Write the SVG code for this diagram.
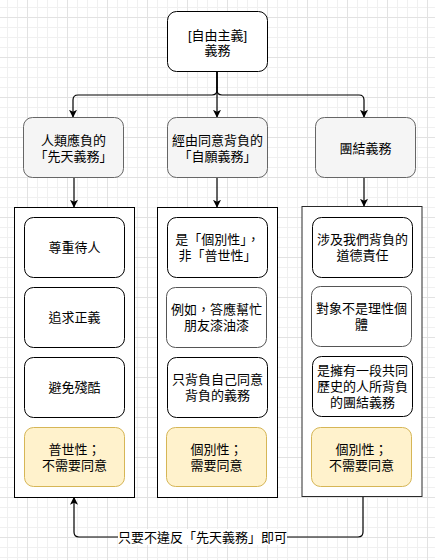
<svg xmlns="http://www.w3.org/2000/svg" width="435" height="560" viewBox="0 0 435 560">
<defs>
<pattern id="grid" x="27" y="17" width="40" height="40" patternUnits="userSpaceOnUse">
<path d="M10.5 0V40M20.5 0V40M30.5 0V40M0 10.5H40M0 20.5H40M0 30.5H40" stroke="#f0f0f0" stroke-width="1" fill="none"/>
<path d="M0.5 0V40M0 0.5H40" stroke="#e2e2e2" stroke-width="1" fill="none"/>
</pattern>
<marker id="arr" viewBox="0 0 10 10" refX="9" refY="5" markerWidth="8" markerHeight="8" markerUnits="userSpaceOnUse" orient="auto">
<path d="M0 0L10 5L0 10L2.5 5Z" fill="#000"/>
</marker>
<style>
text{font-family:"Liberation Sans","Noto Sans CJK TC",sans-serif;font-size:13px;fill:#000;text-anchor:middle}
.w{fill:#fff;stroke:#000;stroke-width:1}
.g{fill:#f5f5f5;stroke:#666;stroke-width:1}
.y{fill:#fff2cc;stroke:#d6b656;stroke-width:1}
.c{fill:#fff;stroke:#000;stroke-width:1}
.e{fill:none;stroke:#000;stroke-width:1.2}
</style>
</defs>
<rect width="435" height="560" fill="#fff"/>
<rect width="435" height="560" fill="url(#grid)"/>

<g id="containers">
<rect id="box-left" class="c" x="14.5" y="207.5" width="120" height="290"/>
<rect id="box-mid" class="c" x="157.5" y="207.5" width="120" height="290"/>
<rect id="box-right" x="302" y="206.5" width="120" height="290" fill="#fff" stroke="#2a2a2a" stroke-width="1"/>
</g>

<g id="connectors">
<path class="e" d="M217 72V117" marker-end="url(#arr)"/>
<path class="e" d="M217 72V90Q217 95 212 95H78Q73 95 73 100V117" marker-end="url(#arr)"/>
<path class="e" d="M217 72V90Q217 95 222 95H359Q364 95 364 100V117" marker-end="url(#arr)"/>
<path class="e" d="M74 177V207" marker-end="url(#arr)"/>
<path class="e" d="M217 177V207" marker-end="url(#arr)"/>
<path class="e" d="M364 177V206" marker-end="url(#arr)"/>
<path class="e" d="M363 497V532Q363 537 358 537H79Q74 537 74 532V497.5" marker-end="url(#arr)"/>
<rect x="118" y="529" width="169" height="16" fill="#fff"/>
<text x="202.5" y="541.5">只要不違反「先天義務」即可</text>
</g>

<g id="root">
<rect class="w" x="167.5" y="11.5" width="100" height="60" rx="9"/>
<text x="217.5" y="39.5">[自由主義]</text>
<text x="217.5" y="54.5">義務</text>
</g>

<g id="innate">
<rect class="g" x="23.5" y="117.5" width="100" height="60" rx="9"/>
<text x="73.5" y="144.5">人類應負的</text>
<text x="73.5" y="160.5">「先天義務」</text>
</g>
<g id="voluntary">
<rect class="g" x="167.5" y="117.5" width="100" height="60" rx="9"/>
<text x="217.5" y="144.5">經由同意背負的</text>
<text x="217.5" y="160.5">「自願義務」</text>
</g>
<g id="solidarity">
<rect class="g" x="315.5" y="117.5" width="100" height="60" rx="9"/>
<text x="365.5" y="153">團結義務</text>
</g>

<g id="l1"><rect class="w" x="24.5" y="217.5" width="100" height="60" rx="9"/><text x="74.5" y="252">尊重待人</text></g>
<g id="l2"><rect class="w" x="24.5" y="287.5" width="100" height="60" rx="9"/><text x="74.5" y="322">追求正義</text></g>
<g id="l3"><rect class="w" x="24.5" y="357.5" width="100" height="60" rx="9"/><text x="74.5" y="392">避免殘酷</text></g>
<g id="l4"><rect class="y" x="24.5" y="427.5" width="100" height="59" rx="9"/><text x="74.5" y="454">普世性；</text><text x="74.5" y="470">不需要同意</text></g>

<g id="m1"><rect class="w" x="167.5" y="217.5" width="100" height="60" rx="9"/><text x="217.5" y="244">是「個別性」，</text><text x="217.5" y="260">非「普世性」</text></g>
<g id="m2"><rect x="166.5" y="287.5" width="100" height="60" rx="9" fill="#fff" stroke="#555" stroke-width="1"/><text x="216.5" y="314">例如，答應幫忙</text><text x="216.5" y="330">朋友漆油漆</text></g>
<g id="m3"><rect class="w" x="167.5" y="357.5" width="100" height="60" rx="9"/><text x="217.5" y="384">只背負自己同意</text><text x="217.5" y="400">背負的義務</text></g>
<g id="m4"><rect class="y" x="166.5" y="427.5" width="100" height="59" rx="9"/><text x="216.5" y="454">個別性；</text><text x="216.5" y="470">需要同意</text></g>

<g id="r1"><rect class="w" x="312.5" y="217.5" width="100" height="60" rx="9"/><text x="362.5" y="244">涉及我們背負的</text><text x="362.5" y="260">道德責任</text></g>
<g id="r2"><rect x="311.5" y="286.5" width="100" height="60" rx="9" fill="#fff" stroke="#555" stroke-width="1"/><text x="361.5" y="313">對象不是理性個</text><text x="361.5" y="329">體</text></g>
<g id="r3"><rect class="w" x="312.5" y="356.5" width="100" height="60" rx="9"/><text x="362.5" y="375">是擁有一段共同</text><text x="362.5" y="391">歷史的人所背負</text><text x="362.5" y="407">的團結義務</text></g>
<g id="r4"><rect class="y" x="311.5" y="427.5" width="100" height="59" rx="9"/><text x="361.5" y="454">個別性；</text><text x="361.5" y="470">不需要同意</text></g>
</svg>
